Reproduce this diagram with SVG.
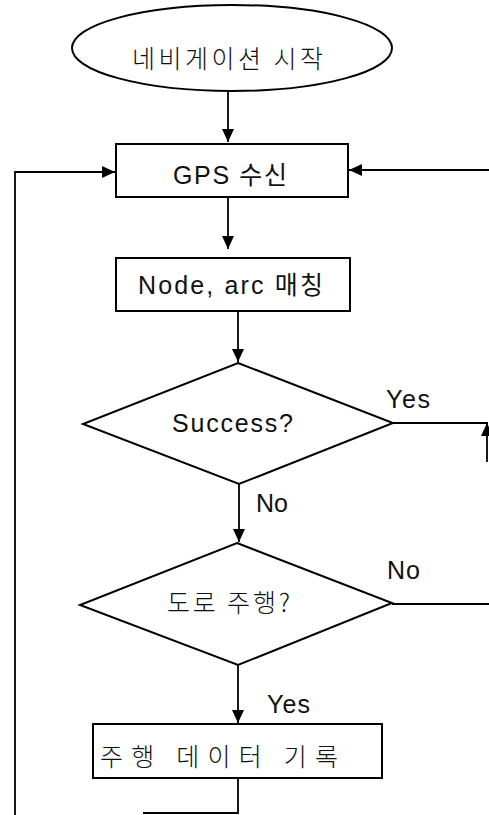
<svg xmlns="http://www.w3.org/2000/svg" width="489" height="815" viewBox="0 0 489 815">
<style>
.s{fill:#fff;stroke:#000;stroke-width:2}
.c{fill:none;stroke:#000;stroke-width:1.8}
.t{font-family:"Liberation Sans","Noto Sans CJK KR",sans-serif;font-size:25px;fill:#111}
.k{font-family:"Noto Sans CJK KR","Liberation Sans",sans-serif;font-size:25px;font-weight:300;fill:#111}
</style>
<defs>
<marker id="ah" markerUnits="userSpaceOnUse" markerWidth="14" markerHeight="12" refX="13" refY="6" orient="auto">
<path d="M0,0 L13,6 L0,12 Z" fill="#000"/>
</marker>
</defs>
<rect width="489" height="815" fill="#fff"/>
<g id="connectors">
<path class="c" d="M228,91 V142" marker-end="url(#ah)"/>
<path class="c" d="M228,197 V249" marker-end="url(#ah)"/>
<path class="c" d="M238,311 V362" marker-end="url(#ah)"/>
<path class="c" d="M239,484 V542" marker-end="url(#ah)"/>
<path class="c" d="M238,665 V723" marker-end="url(#ah)"/>
<path class="c" d="M393,423 H488"/>
<path class="c" d="M487,462 V423" marker-end="url(#ah)"/>
<path class="c" d="M392,604 H489"/>
<path class="c" d="M489,170 H349" marker-end="url(#ah)"/>
<path class="c" d="M238,778 V813 H143"/>
<path class="c" d="M15,815 V172 H115" marker-end="url(#ah)"/>
<text class="t" x="386" y="408" textLength="44" lengthAdjust="spacing">Yes</text>
<text class="t" x="256" y="512" textLength="32" lengthAdjust="spacing">No</text>
<text class="t" x="387" y="579" textLength="33" lengthAdjust="spacing">No</text>
<text class="t" x="267" y="713" textLength="43" lengthAdjust="spacing">Yes</text>
</g>
<g id="start">
<ellipse class="s" cx="232" cy="48" rx="160" ry="43"/>
<text class="k" x="132" y="68" textLength="191" lengthAdjust="spacing">네비게이션 시작</text>
</g>
<g id="gps">
<rect class="s" x="116" y="144" width="232" height="53"/>
<text class="t" x="173" y="184" textLength="114" lengthAdjust="spacing">GPS 수신</text>
</g>
<g id="match">
<rect class="s" x="116" y="258" width="234" height="53"/>
<text class="t" x="138" y="294" textLength="185" lengthAdjust="spacing">Node, arc 매칭</text>
</g>
<g id="success">
<polygon class="s" points="238,363 393,423 239,484 83,424"/>
<text class="t" x="172" y="432" textLength="121" lengthAdjust="spacing">Success?</text>
</g>
<g id="road">
<polygon class="s" points="237,543 392,603 238,665 80,605"/>
<text class="k" x="167" y="612" textLength="123" lengthAdjust="spacing">도로 주행?</text>
</g>
<g id="record">
<rect class="s" x="93" y="724" width="289" height="54"/>
<text class="k" x="100" y="766" textLength="238" lengthAdjust="spacing">주행 데이터 기록</text>
</g>
</svg>
